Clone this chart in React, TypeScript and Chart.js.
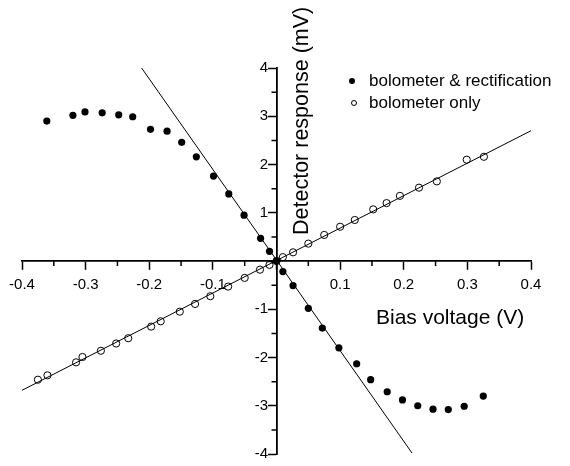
import React, { useEffect, useRef } from "react";
import { Chart, registerables } from "chart.js";

Chart.register(...registerables);

// Bias voltage (V) and detector response (mV)
const filledV = [-0.361, -0.320, -0.301, -0.274, -0.248, -0.226, -0.198, -0.172, -0.149, -0.126, -0.099, -0.075, -0.051, -0.025, -0.011, 0.0, 0.010, 0.026, 0.050, 0.072, 0.098, 0.126, 0.148, 0.174, 0.198, 0.222, 0.246, 0.270, 0.295, 0.325];
const filledMV = [2.90, 3.02, 3.09, 3.07, 3.03, 2.99, 2.73, 2.69, 2.46, 2.16, 1.76, 1.39, 0.95, 0.47, 0.20, 0.0, -0.22, -0.51, -0.98, -1.39, -1.80, -2.13, -2.46, -2.71, -2.88, -3.00, -3.07, -3.08, -3.01, -2.80];

const openV = [-0.375, -0.360, -0.315, -0.305, -0.276, -0.252, -0.233, -0.197, -0.182, -0.152, -0.128, -0.104, -0.076, -0.050, -0.026, -0.011, 0.0, 0.010, 0.026, 0.050, 0.075, 0.100, 0.123, 0.152, 0.173, 0.194, 0.224, 0.252, 0.299, 0.326];
const openMV = [-2.46, -2.37, -2.10, -1.99, -1.86, -1.71, -1.60, -1.36, -1.25, -1.05, -0.89, -0.73, -0.53, -0.35, -0.18, -0.08, 0.0, 0.08, 0.18, 0.36, 0.54, 0.71, 0.85, 1.07, 1.20, 1.35, 1.52, 1.65, 2.10, 2.16];

const fitFilledV = [-0.212, 0.213];
const fitFilledMV = [4.0, -3.98];
const fitOpenV = [-0.4, 0.4];
const fitOpenMV = [-2.68, 2.70];

const xMinorTicks = [-0.35, -0.25, -0.15, -0.05, 0.05, 0.15, 0.25, 0.35];
const yMinorTicks = [-3.5, -2.5, -1.5, -0.5, 0.5, 1.5, 2.5, 3.5];

const legendLabels = ["bolometer & rectification", "bolometer only"];
const xTitle = "Bias voltage (V)";
const yTitle = "Detector response (mV)";

const FONT = "'Liberation Sans', Arial, sans-serif";

const zip = (xs: number[], ys: number[]) => xs.map((x, i) => ({ x, y: ys[i] }));

const decorPlugin = {
  id: "decor",
  afterDraw(chart: any) {
    const ctx = chart.ctx;
    const xs = chart.scales.x;
    const ys = chart.scales.y;
    const x0 = xs.getPixelForValue(0);
    const y0 = ys.getPixelForValue(0);
    ctx.save();
    ctx.strokeStyle = "#000";
    ctx.lineWidth = 1.5;
    ctx.beginPath();
    xMinorTicks.forEach((v) => {
      const px = xs.getPixelForValue(v);
      ctx.moveTo(px, y0);
      ctx.lineTo(px, y0 + 5);
    });
    yMinorTicks.forEach((v) => {
      const py = ys.getPixelForValue(v);
      ctx.moveTo(x0, py);
      ctx.lineTo(x0 - 5, py);
    });
    ctx.stroke();

    ctx.fillStyle = "#000";
    // x title
    ctx.font = `21px ${FONT}`;
    ctx.textAlign = "left";
    ctx.textBaseline = "alphabetic";
    ctx.fillText(xTitle, 376, 324);
    // y title
    ctx.save();
    ctx.font = `21.5px ${FONT}`;
    ctx.translate(x0 + 31, 235);
    ctx.rotate(-Math.PI / 2);
    ctx.fillText(yTitle, 0, 0);
    ctx.restore();

    // legend
    ctx.font = `17px ${FONT}`;
    ctx.textBaseline = "middle";
    ctx.beginPath();
    ctx.arc(352, 81, 3, 0, Math.PI * 2);
    ctx.fill();
    ctx.fillText(legendLabels[0], 369, 81);
    ctx.beginPath();
    ctx.lineWidth = 1;
    ctx.arc(354, 103, 2.5, 0, Math.PI * 2);
    ctx.stroke();
    ctx.fillText(legendLabels[1], 369, 103);
    ctx.restore();
  },
};

export default function App() {
  const ref = useRef<HTMLCanvasElement | null>(null);
  useEffect(() => {
    if (!ref.current) return;
    const chart = new Chart(ref.current, {
      type: "scatter",
      data: {
        datasets: [
          {
            label: "fit1",
            data: zip(fitFilledV, fitFilledMV),
            showLine: true,
            borderColor: "#000",
            borderWidth: 1,
            pointRadius: 0,
          },
          {
            label: "fit2",
            data: zip(fitOpenV, fitOpenMV),
            showLine: true,
            borderColor: "#000",
            borderWidth: 1,
            pointRadius: 0,
          },
          {
            label: legendLabels[0],
            data: zip(filledV, filledMV),
            backgroundColor: "#000",
            borderColor: "#000",
            pointRadius: 3.6,
            borderWidth: 0,
          },
          {
            label: legendLabels[1],
            data: zip(openV, openMV),
            backgroundColor: "rgba(255,255,255,0)",
            borderColor: "#000",
            pointRadius: 3.6,
            borderWidth: 1,
          },
        ],
      },
      options: {
        responsive: false,
        animation: false,
        layout: { padding: { left: 22, right: 39, top: 68, bottom: 5 } },
        plugins: { legend: { display: false }, tooltip: { enabled: false } },
        scales: {
          x: {
            type: "linear",
            position: { y: 0 } as any,
            min: -0.4,
            max: 0.4,
            grid: { drawOnChartArea: false, drawTicks: true, tickLength: 8, tickWidth: 1.5, tickColor: "#000" },
            border: { display: true, color: "#000", width: 1.8 },
            ticks: {
              stepSize: 0.1,
              autoSkip: false,
              maxRotation: 0,
              padding: 7,
              color: "#000",
              font: { family: FONT, size: 15 },
              callback: (v: any) => (Math.abs(Number(v)) < 1e-9 ? "" : Number(v).toFixed(1)),
            },
          },
          y: {
            type: "linear",
            position: { x: 0 } as any,
            min: -4,
            max: 4,
            grid: { drawOnChartArea: false, drawTicks: true, tickLength: 8, tickWidth: 1.5, tickColor: "#000" },
            border: { display: true, color: "#000", width: 1.8 },
            ticks: {
              stepSize: 1,
              autoSkip: false,
              color: "#000",
              font: { family: FONT, size: 15 },
              // trailing spaces keep the right-aligned labels clear of the tick marks
              callback: (v: any) => (Math.abs(Number(v)) < 1e-9 ? "" : String(v) + "  "),
            },
          },
        },
      },
      plugins: [decorPlugin],
    });
    return () => chart.destroy();
  }, []);
  return (
    <div style={{ position: "fixed", left: 0, top: 0, width: 570, height: 466, background: "#fff" }}>
      <canvas ref={ref} width={570} height={466} />
    </div>
  );
}
